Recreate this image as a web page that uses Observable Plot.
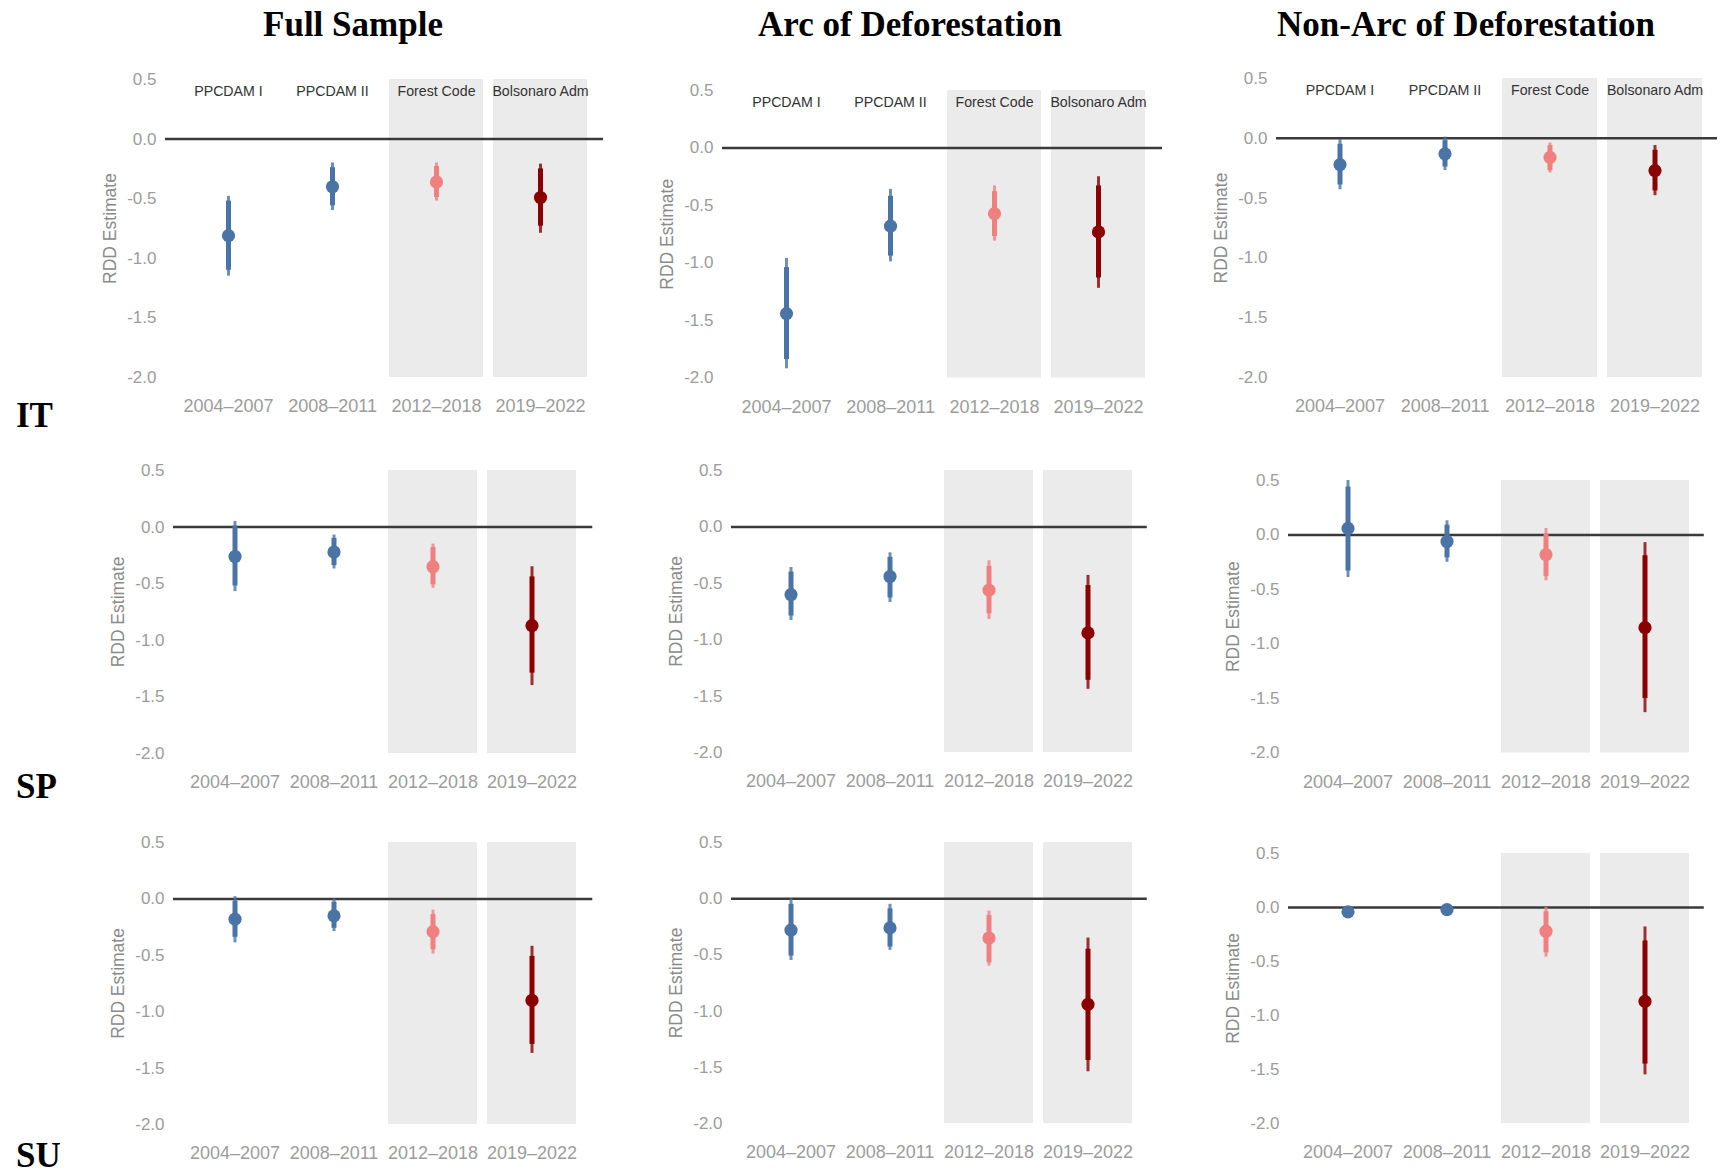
<!DOCTYPE html>
<html>
<head>
<meta charset="utf-8">
<script src="https://cdn.jsdelivr.net/npm/d3@7"></script>
<script src="https://cdn.jsdelivr.net/npm/@observablehq/plot@0.6"></script>
<style>
  html, body { margin: 0; padding: 0; background: #fff; overflow: hidden; }
  #figure { position: relative; width: 1720px; height: 1176px; overflow: hidden; }
  #figure > svg { position: absolute; }
</style>
</head>
<body>
<div id="figure"></div>
<script>
// Policy periods and their names
const periods = ["2004–2007", "2008–2011", "2012–2018", "2019–2022"];
const policies = ["PPCDAM I", "PPCDAM II", "Forest Code", "Bolsonaro Adm"];
const shadedPeriods = ["2012–2018", "2019–2022"];
const periodColors = ["#4a73a6", "#4a73a6", "#f08080", "#8b0000"];

// Column (sample) and row (outcome) headings
const samples = ["Full Sample", "Arc of Deforestation", "Non-Arc of Deforestation"];
const outcomes = ["IT", "SP", "SU"];

// y axis
const yDomain = [-2, 0.5];
const yTicks = [0.5, 0, -0.5, -1, -1.5, -2];

// RDD estimates per period: [estimate, lo95, hi95, lo90, hi90]
const IT_full = [
  [-0.81, -1.15, -0.48, -1.10, -0.52],
  [-0.40, -0.60, -0.20, -0.56, -0.24],
  [-0.36, -0.52, -0.20, -0.49, -0.23],
  [-0.49, -0.79, -0.21, -0.73, -0.25]
];
const IT_arc = [
  [-1.44, -1.92, -0.96, -1.84, -1.04],
  [-0.68, -0.99, -0.36, -0.94, -0.42],
  [-0.57, -0.81, -0.33, -0.77, -0.38],
  [-0.73, -1.22, -0.25, -1.13, -0.33]
];
const IT_nonarc = [
  [-0.22, -0.43, -0.01, -0.39, -0.05],
  [-0.13, -0.27, 0.01, -0.24, -0.02],
  [-0.16, -0.29, -0.04, -0.27, -0.06],
  [-0.27, -0.48, -0.06, -0.44, -0.10]
];
const SP_full = [
  [-0.26, -0.57, 0.05, -0.52, 0.01],
  [-0.22, -0.37, -0.07, -0.34, -0.10],
  [-0.35, -0.54, -0.15, -0.51, -0.18],
  [-0.87, -1.40, -0.35, -1.29, -0.44]
];
const SP_arc = [
  [-0.60, -0.83, -0.36, -0.79, -0.40],
  [-0.44, -0.67, -0.23, -0.63, -0.27],
  [-0.56, -0.82, -0.30, -0.77, -0.35],
  [-0.94, -1.44, -0.43, -1.36, -0.52]
];
const SP_nonarc = [
  [0.06, -0.39, 0.50, -0.33, 0.44],
  [-0.06, -0.25, 0.13, -0.21, 0.09],
  [-0.18, -0.42, 0.06, -0.38, 0.01],
  [-0.85, -1.63, -0.07, -1.50, -0.19]
];
const SU_full = [
  [-0.18, -0.39, 0.02, -0.34, -0.02],
  [-0.15, -0.29, 0.00, -0.26, -0.03],
  [-0.29, -0.49, -0.10, -0.45, -0.14],
  [-0.90, -1.37, -0.42, -1.29, -0.51]
];
const SU_arc = [
  [-0.28, -0.55, 0.00, -0.51, -0.05],
  [-0.26, -0.46, -0.05, -0.43, -0.09],
  [-0.35, -0.60, -0.11, -0.57, -0.15],
  [-0.94, -1.54, -0.35, -1.44, -0.45]
];
const SU_nonarc = [
  [-0.04, -0.07, -0.01, -0.06, -0.02],
  [-0.02, -0.05, 0.00, -0.04, -0.01],
  [-0.22, -0.46, 0.00, -0.42, -0.04],
  [-0.87, -1.55, -0.18, -1.45, -0.31]
];

const grid = [
  [IT_full, IT_arc, IT_nonarc],
  [SP_full, SP_arc, SP_nonarc],
  [SU_full, SU_arc, SU_nonarc]
];

// Page layout: horizontal extent of each panel's x range, and pixel rows of y = 0.5 and y = -2
const panelX = [
  [[165, 603], [722, 1162], [1276, 1717]],
  [[172.7, 592], [730.6, 1146.4], [1287.6, 1703.4]],
  [[172.7, 592], [730.6, 1146.4], [1287.6, 1703.4]]
];
const panelY = [
  [[79, 377], [89.5, 377], [78, 377]],
  [[470, 753], [470, 752], [479.5, 752]],
  [[842, 1124], [842, 1123], [853, 1123]]
];
const titleX = [353, 910, 1466];
const titleBaseline = 36;
const rowBaseline = [427, 798, 1167];

const fig = document.getElementById("figure");
const axisGray = "#9c9c9c";

function panel(values, [x0, x1], [yTop, yBot], withPolicies) {
  const mL = 80, mR = 3, mT = 30, mB = 52;
  const rows = values.map(([est, lo95, hi95, lo90, hi90], i) => ({
    period: periods[i], color: periodColors[i], est, lo95, hi95, lo90, hi90
  }));
  const marks = [
    Plot.barY(shadedPeriods, {x: d => d, y1: yDomain[0], y2: yDomain[1], fill: "#ebebeb"}),
    Plot.ruleY([0], {stroke: "#3a3a3a", strokeWidth: 2.5}),
    Plot.ruleX(rows, {x: "period", y1: "lo95", y2: "hi95", stroke: "color", strokeWidth: 3, strokeOpacity: 0.8}),
    Plot.ruleX(rows, {x: "period", y1: "lo90", y2: "hi90", stroke: "color", strokeWidth: 5}),
    Plot.dot(rows, {x: "period", y: "est", r: 6.6, fill: "color"}),
    Plot.axisX({tickSize: 0, tickPadding: 22, fontSize: 18, fill: axisGray, label: null}),
    Plot.axisY({ticks: yTicks, tickSize: 0, tickPadding: 9, fontSize: 17, fill: axisGray,
                tickFormat: d => d.toFixed(1), label: null}),
    Plot.text(["RDD Estimate"], {text: d => d, frameAnchor: "left", textAnchor: "middle", lineAnchor: "middle",
                                 rotate: -90, dx: -55, fill: "#8a8a8a", fontSize: 17.5})
  ];
  if (withPolicies) {
    marks.push(Plot.text(policies, {x: (d, i) => periods[i], text: d => d, frameAnchor: "top",
                                    lineAnchor: "middle", dy: 12, fill: "#333", fontSize: 14.2}));
  }
  const svg = Plot.plot({
    width: (x1 - x0) + mL + mR,
    height: (yBot - yTop) + mT + mB,
    marginLeft: mL, marginRight: mR, marginTop: mT, marginBottom: mB,
    style: {fontFamily: "'Liberation Sans', Arial, Helvetica, sans-serif", background: "transparent", overflow: "visible"},
    x: {type: "band", domain: periods, paddingInner: 0.1, paddingOuter: 0.15, align: 0.5, label: null},
    y: {domain: yDomain, label: null},
    marks
  });
  svg.style.left = (x0 - mL) + "px";
  svg.style.top = (yTop - mT) + "px";
  fig.appendChild(svg);
}

grid.forEach((row, r) => row.forEach((values, c) => panel(values, panelX[r][c], panelY[r][c], r === 0)));

// Column titles and row labels
const overlay = d3.select(fig).append("svg")
  .attr("width", 1720).attr("height", 1176)
  .style("left", "0px").style("top", "0px").style("pointer-events", "none")
  .style("font-family", "'Liberation Serif', 'Times New Roman', serif")
  .style("font-weight", "bold").style("font-size", "35px");

overlay.selectAll("text.title").data(samples).join("text")
  .attr("class", "title")
  .attr("x", (d, i) => titleX[i]).attr("y", titleBaseline)
  .attr("text-anchor", "middle").attr("fill", "#000").text(d => d);

overlay.selectAll("text.row").data(outcomes).join("text")
  .attr("class", "row")
  .attr("x", 16).attr("y", (d, i) => rowBaseline[i])
  .attr("fill", "#000").text(d => d);
</script>
</body>
</html>
